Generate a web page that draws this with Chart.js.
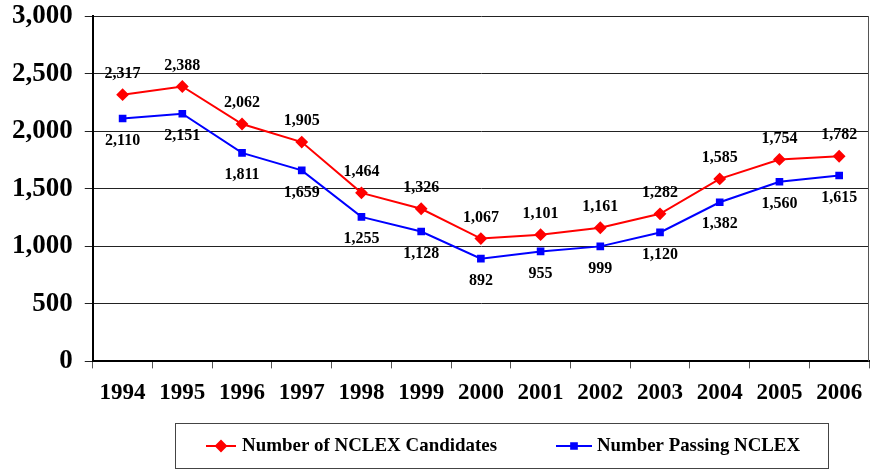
<!DOCTYPE html>
<html>
<head>
<meta charset="utf-8">
<script src="https://cdn.jsdelivr.net/npm/chart.js@4.4.1/dist/chart.umd.min.js"></script>
<style>
  html, body { margin: 0; padding: 0; background: #fff; }
  #wrap { width: 870px; height: 471px; }
</style>
</head>
<body>
<div id="wrap"><canvas id="nclexChart" width="870" height="471"></canvas></div>
<script>
const years = ["1994", "1995", "1996", "1997", "1998", "1999", "2000", "2001", "2002", "2003", "2004", "2005", "2006"];
const candidates = [2317, 2388, 2062, 1905, 1464, 1326, 1067, 1101, 1161, 1282, 1585, 1754, 1782];
const passing = [2110, 2151, 1811, 1659, 1255, 1128, 892, 955, 999, 1120, 1382, 1560, 1615];
const yTicks = [0, 500, 1000, 1500, 2000, 2500, 3000];

const serif = "'Liberation Serif', 'Times New Roman', serif";

function fmt(v) {
    return v.toLocaleString("en-US");
}

// value labels: red above the points, blue below
const valueLabels = {
    id: "valueLabels",
    afterDatasetsDraw(chart) {
        const ctx = chart.ctx;
        ctx.save();
        ctx.font = "bold 16px " + serif;
        ctx.fillStyle = "#000";
        ctx.textAlign = "center";
        ctx.textBaseline = "middle";
        chart.data.datasets.forEach((ds, i) => {
            const meta = chart.getDatasetMeta(i);
            meta.data.forEach((pt, j) => {
                const dy = i === 0 ? -21 : 22;
                ctx.fillText(fmt(ds.data[j]), pt.x, pt.y + dy);
            });
        });
        ctx.restore();
    }
};

// frame on the right + boxed legend at the bottom
const frameAndLegend = {
    id: "frameAndLegend",
    afterDraw(chart) {
        const ctx = chart.ctx;
        const a = chart.chartArea;
        ctx.save();
        ctx.strokeStyle = "#555";
        ctx.lineWidth = 1;
        ctx.beginPath();
        ctx.moveTo(a.right - 0.5, a.top);
        ctx.lineTo(a.right - 0.5, a.bottom);
        ctx.stroke();

        ctx.strokeStyle = "#444";
        ctx.strokeRect(175.5, 423.5, 653, 45);

        const items = [
            { text: "Number of NCLEX Candidates", color: "#FF0000", style: "rectRot", r: 5, x0: 206, x1: 236, tx: 242, tw: 255 },
            { text: "Number Passing NCLEX", color: "#0000FF", style: "rect", r: 4, x0: 556, x1: 592, tx: 597, tw: 203 }
        ];
        const ly = 446;
        items.forEach(it => {
            ctx.strokeStyle = it.color;
            ctx.lineWidth = 2;
            ctx.beginPath();
            ctx.moveTo(it.x0, ly);
            ctx.lineTo(it.x1, ly);
            ctx.stroke();
            ctx.fillStyle = it.color;
            Chart.helpers.drawPoint(ctx, { pointStyle: it.style, radius: it.r, borderWidth: 1 }, (it.x0 + it.x1) / 2, ly);
            ctx.fillStyle = "#000";
            ctx.font = "bold 19px " + serif;
            ctx.textAlign = "left";
            ctx.textBaseline = "middle";
            const w = ctx.measureText(it.text).width;
            ctx.save();
            ctx.translate(it.tx, ly);
            ctx.scale(it.tw / w, 1);
            ctx.fillText(it.text, 0, 0);
            ctx.restore();
        });
        ctx.restore();
    }
};

new Chart(document.getElementById("nclexChart"), {
    type: "line",
    data: {
        labels: years,
        datasets: [
            {
                label: "Number of NCLEX Candidates",
                data: candidates,
                borderColor: "#FF0000",
                backgroundColor: "#FF0000",
                borderWidth: 2,
                pointStyle: "rectRot",
                pointRadius: 5,
                pointHoverRadius: 5,
                tension: 0
            },
            {
                label: "Number Passing NCLEX",
                data: passing,
                borderColor: "#0000FF",
                backgroundColor: "#0000FF",
                borderWidth: 2,
                pointStyle: "rect",
                pointRadius: 4,
                pointHoverRadius: 4,
                tension: 0
            }
        ]
    },
    options: {
        responsive: false,
        animation: false,
        layout: { autoPadding: false, padding: { top: 16, right: 1, bottom: 53, left: 0 } },
        plugins: {
            legend: { display: false },
            tooltip: { enabled: false }
        },
        scales: {
            x: {
                offset: true,
                afterFit(scale) {
                    scale.paddingLeft = 0;
                    scale.paddingRight = 0;
                },
                grid: {
                    offset: true,
                    drawOnChartArea: false,
                    color: "#555",
                    tickLength: 7
                },
                border: { color: "#000", width: 2 },
                ticks: {
                    color: "#000",
                    padding: 11,
                    font: { family: serif, size: 23, weight: "bold" }
                }
            },
            y: {
                min: 0,
                max: 3000,
                afterBuildTicks(axis) {
                    axis.ticks = yTicks.map(v => ({ value: v }));
                },
                afterFit(scale) {
                    scale.paddingTop = 0;
                    scale.paddingBottom = 0;
                },
                grid: {
                    color: "#222",
                    lineWidth: 1,
                    tickLength: 8
                },
                border: { color: "#000", width: 2 },
                ticks: {
                    color: "#000",
                    padding: 12,
                    font: { family: serif, size: 27, weight: "bold" },
                    callback: v => fmt(v)
                }
            }
        }
    },
    plugins: [valueLabels, frameAndLegend]
});
</script>
</body>
</html>
